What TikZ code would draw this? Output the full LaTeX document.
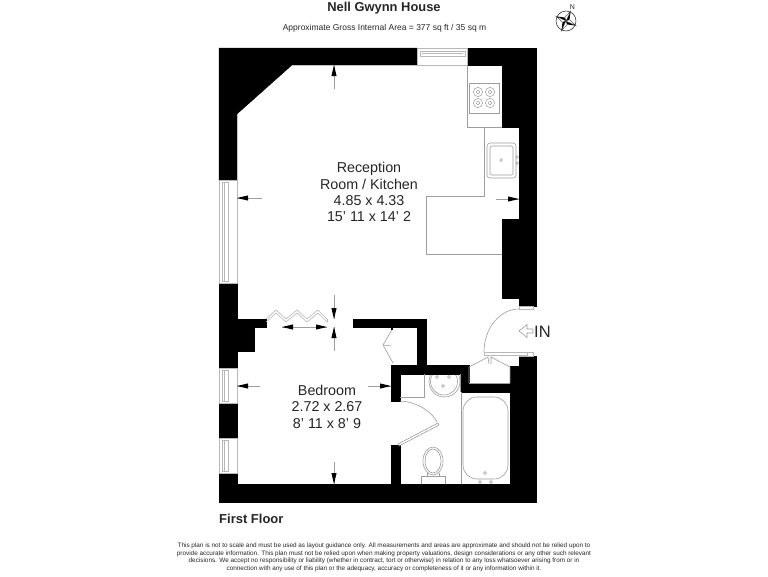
\documentclass[tikz,border=0pt]{standalone}
\usepackage{fontspec}
\setmainfont{Liberation Sans}
\usetikzlibrary{arrows.meta}
\definecolor{thin}{gray}{0.62}
\definecolor{pale}{gray}{0.72}
\definecolor{ink}{gray}{0.15}
\tikzset{
  wall/.style={fill=black,draw=black,line width=0.3pt},
  fix/.style={draw=thin,line width=0.6pt,fill=none},
  pane/.style={draw=pale,line width=0.6pt,fill=none},
  dim/.style={draw=thin,line width=0.6pt},
  head/.style={fill=black,draw=none},
  label/.style={font=\fontsize{14.3}{14.3}\selectfont,text=ink,inner sep=0pt,anchor=base},
}
\newcommand{\dimarrow}[4]{% tail x,y  tip x,y
  \draw[dim] (#1,#2) -- (#3,#4);
  \pgfmathanglebetweenpoints{\pgfpointxy{#1}{#2}}{\pgfpointxy{#3}{#4}}
  \let\ang\pgfmathresult
  \fill[head,shift={(#3,#4)},rotate=\ang] (0,0) -- (-11,-2.6) -- (-11,2.6) -- cycle;
}
\begin{document}
\begin{tikzpicture}[x=1pt,y=-1pt]
\useasboundingbox (0,0) rectangle (768,576);
\fill[white] (0,0) rectangle (768,576);
% basin (its back is hidden by the wall drawn afterwards)
\draw[fix] (444.5,381.5) ellipse (15.5 and 15.5);
\draw[fix] (444,381.5) ellipse (13.5 and 13.5);
% walls
\fill[wall] (219,48)--(417,48)--(417,65)--(292,65)--(237,114)--(237,180)--(219,180)--cycle;
\fill[wall] (467,48)--(536,48)--(536,306)--(519,306)--(519,298)--(502,298)--(502,219)--(519,219)--(519,127)--(502,127)--(502,65)--(467,65)--cycle;
\fill[wall] (219,283)--(237,283)--(237,319)--(266,319)--(266,327)--(254,327)--(254,351)--(237,351)--(237,368)--(219,368)--cycle;
\fill[wall] (219,403)--(237,403)--(237,438)--(219,438)--cycle;
\fill[wall] (219,473)--(237,473)--(237,484)--(391,484)--(391,445)--(400,445)--(400,484)--(510,484)--(510,366)--(519,366)--(519,356)--(536,356)--(536,502)--(219,502)--cycle;
\fill[wall] (353,319)--(426,319)--(426,365)--(469,365)--(469,383)--(510,383)--(510,392)--(461,392)--(461,374)--(400,374)--(400,401)--(391,401)--(391,365)--(417,365)--(417,327)--(353,327)--cycle;
% windows
\draw[pane] (417,48) rectangle (467,65);
\draw[pane] (420,51) rectangle (465,56);
\draw[pane] (422,53) -- (463,53);
\draw[pane] (219.5,180) rectangle (237,283);
\draw[pane] (222,182) rectangle (228,281);
\draw[pane] (224.5,182) -- (224.5,281);
\draw[pane] (219.5,368) rectangle (237,403);
\draw[pane] (222,370) rectangle (228,401);
\draw[pane] (224.5,370) -- (224.5,401);
\draw[pane] (219.5,438) rectangle (237,473);
\draw[pane] (222,440) rectangle (228,471);
\draw[pane] (224.5,440) -- (224.5,471);
% kitchen units
\draw[fix] (467,65) -- (467,127) -- (484,127) -- (484,196) -- (426,196) -- (426,254) -- (502,254);
\draw[fix] (484,127) -- (502,127);
\draw[fix] (469,83) rectangle (499,113);
\foreach \cx/\cy in {478/92,490/92,478/103,490/103}{
  \draw[fix,line width=0.5pt] (\cx,\cy) circle (4.6);
  \draw[fix,line width=0.5pt] (\cx,\cy) circle (1.9);
}
\draw[fix,rounded corners=3pt] (487,143) rectangle (516,178);
\draw[fix,rounded corners=2pt] (490,146) rectangle (513,175);
\draw[fix,line width=0.5pt] (501,160) circle (1.4);
\draw[fix,line width=0.5pt] (517,157) circle (1.4) (517,163) circle (1.4);
% bifold door
\draw[pane] (266,319)--(276,310)--(286,319)--(297,310)--(307,319)--(318,310)--(327,319);
\draw[pane] (266,322)--(276,313)--(286,322)--(297,313)--(307,322)--(318,313)--(327,322);
\draw[pane] (327,319)--(327,322);
% wardrobe doors
\draw[fix] (393,328)--(383,345)--(393,363);
\draw[fix] (383,345)--(391,346);
\fill[black] (391,327) rectangle (393,330);
% entrance door
\draw[pane] (484,352) rectangle (527,355);
\draw[pane] (527,352)--(533,352)--(533,356)--(519,356);
\draw[fix] (484,352) .. controls (484,328) and (500,309) .. (519,309);
\draw[pane] (519,306) rectangle (533,309);
% cupboard doors
\draw[fix] (469,383)--(469,367)--(488,357)--(489,364);
\draw[fix] (510,383)--(510,367)--(491,357)--(491,364);
\draw[fix] (469,383)--(510,383);
% bathroom
\draw[fix] (400,397)--(424,397)--(424,374);
\draw[fix] (461,392)--(461,484);
\draw[fix] (460,374)--(460,392);
\draw[fix,line width=0.5pt] (437,377) circle (1.5) (449,377) circle (1.5) (443,386) circle (1.5);
\draw[fix,rounded corners=14pt] (463,397) rectangle (508,479);
\draw[fix,line width=0.5pt] (485,473) circle (1.5) (480,482) circle (1.5) (491,482) circle (1.5);
\draw[fix] (433,461) ellipse (10 and 14);
\draw[fix] (433,461) ellipse (8 and 12);
\draw[fix] (427,473) -- (427,476) (439,473) -- (439,476);
\draw[fix] (421,484) -- (421,476) -- (445,476) -- (445,484);
\draw[fix] (398,444) -- (438,423) -- (439,425) -- (399,446) -- cycle;
\draw[fix] (400,401) .. controls (418,402) and (432,412) .. (437,422);
% dimension arrows
\dimarrow{334}{89}{334}{65}
\dimarrow{262}{198}{237}{198}
\dimarrow{496}{199}{519}{199}
\dimarrow{334}{295}{334}{319}
\dimarrow{334}{351}{334}{327}
\dimarrow{305}{327}{282}{327}
\dimarrow{305}{327}{327}{327}
\dimarrow{260}{386}{237}{386}
\dimarrow{368}{386}{391}{386}
\dimarrow{334}{462}{334}{484}
% IN arrow
\draw[fix,line join=miter,fill=white] (519,331)--(527,324.5)--(527,329)--(533,329)--(533,333)--(527,333)--(527,337.5)--cycle;
\node[inner sep=0pt,anchor=west,font=\fontsize{16.5}{16.5}\selectfont,text=ink] (inlabel) at (534,332) {IN};
% labels
\node[label] (r1) at (369,172) {Reception};
\node[label] (r2) at (369,189) {Room / Kitchen};
\node[label] (r3) at (369,205) {4.85 x 4.33};
\node[label] (r4) at (369,221) {15' 11 x 14' 2};
\node[label] (b1) at (327,395) {Bedroom};
\node[label] (b2) at (327,411) {2.72 x 2.67};
\node[label] (b3) at (327,428) {8' 11 x 8' 9};
\node[inner sep=0pt,anchor=base,font=\bfseries\fontsize{12.9}{12.9}\selectfont,text=ink] (title) at (384,11) {Nell Gwynn House};
\node[inner sep=0pt,anchor=base,font=\fontsize{8.5}{8.5}\selectfont,text=ink] (area) at (384.5,30) {Approximate Gross Internal Area = 377 sq ft / 35 sq m};
\node[inner sep=0pt,anchor=west,font=\bfseries\fontsize{13}{13}\selectfont,text=ink] (floor) at (219,519) {First Floor};
\node[inner sep=0pt,align=center,font=\fontsize{6.37}{7.6}\selectfont,text=ink] (note) at (384,557.5) {This plan is not to scale and must be used as layout guidance only. All measurements and areas are approximate and should not be relied upon to\\provide accurate information. This plan must not be relied upon when making property valuations, design considerations or any other such relevant\\decisions. We accept no responsibility or liability (whether in contract, tort or otherwise) in relation to any loss whatsoever arising from or in\\connection with any use of this plan or the adequacy, accuracy or completeness of it or any information within it.};
% compass
\node[inner sep=0pt,font=\fontsize{7}{7}\selectfont,text=ink] (north) at (572.5,7) {N};
\draw[draw=ink,line width=0.5pt] (566,21) circle (10);
\begin{scope}[shift={(566,21)},rotate=-25]
  \foreach \a in {0,90,180,270}{
    \begin{scope}[rotate=\a]
      \fill[black] (0,0) -- (0,-11) -- (2.6,-2.6) -- cycle;
      \draw[draw=ink,line width=0.3pt,fill=white] (0,0) -- (0,-11) -- (-2.6,-2.6) -- cycle;
    \end{scope}
  }
\end{scope}
\end{tikzpicture}
\end{document}
